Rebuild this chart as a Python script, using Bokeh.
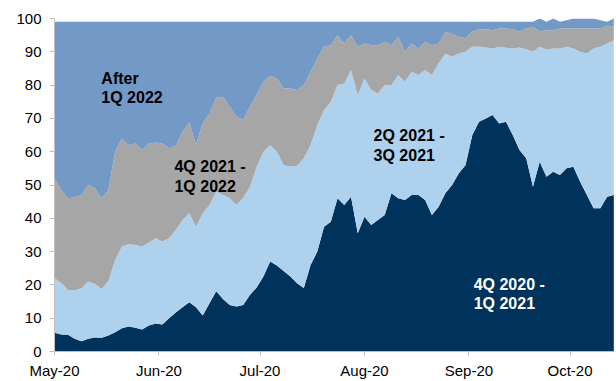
import pandas as pd
from bokeh.plotting import figure
from bokeh.models import ColumnDataSource, Range1d, FixedTicker, DatetimeTickFormatter, Label
from bokeh.embed import file_html
from bokeh.resources import INLINE

# Observation dates (every second day)
dates = pd.date_range("2020-05-01", periods=84, freq="2D")

# Share of expectations (%) for each timing bucket, bottom to top
q4_2020_1q_2021 = [5.6, 5.1, 5.0, 3.8, 3.1, 3.8, 4.2, 4.1, 4.8, 5.8,
                   7.0, 7.5, 7.1, 6.6, 7.8, 8.4, 8.1, 10.0, 11.7, 13.3,
                   14.8, 13.3, 10.8, 14.5, 18.1, 15.8, 14.0, 13.5, 14.0, 17.0,
                   19.2, 22.5, 27.0, 25.8, 24.2, 22.5, 20.5, 19.1, 26.0, 30.0,
                   37.5, 39.0, 46.0, 44.0, 46.5, 35.5, 40.5, 38.0, 39.5, 41.0,
                   47.5, 46.0, 45.5, 47.0, 47.0, 45.5, 41.0, 43.5, 47.5, 50.0,
                   53.5, 56.0, 65.0, 69.0, 70.0, 71.0, 68.5, 69.0, 65.0, 60.5,
                   58.0, 49.5, 57.0, 52.5, 54.0, 53.0, 55.0, 55.5, 51.0, 47.0,
                   43.0, 43.0, 46.5, 47.0]
q2_2021_3q_2021 = [16.5, 15.5, 13.5, 14.6, 15.9, 17.2, 16.1, 14.7, 16.4, 21.7,
                   24.5, 24.7, 24.9, 24.9, 24.9, 25.6, 24.9, 24.0, 24.8, 26.2,
                   26.7, 24.2, 30.7, 29.5, 29.9, 31.2, 32.0, 30.5, 32.2, 32.5,
                   36.3, 37.5, 35.0, 34.2, 31.8, 33.0, 35.3, 38.9, 36.0, 38.0,
                   35.0, 36.0, 34.0, 36.5, 38.0, 41.5, 41.5, 40.5, 38.0, 39.0,
                   32.5, 37.0, 35.5, 37.0, 36.0, 39.0, 42.0, 43.0, 42.0, 38.5,
                   36.0, 34.0, 26.5, 22.5, 21.3, 20.0, 23.0, 22.2, 26.0, 30.8,
                   32.8, 40.5, 34.5, 38.2, 37.0, 38.0, 36.5, 35.5, 39.0, 42.5,
                   48.0, 48.5, 46.0, 46.5]
q4_2021_1q_2022 = [29.9, 27.9, 27.5, 27.9, 28.0, 29.0, 28.7, 27.2, 27.3, 32.5,
                   32.5, 29.8, 30.5, 29.0, 29.8, 28.8, 29.5, 27.0, 25.3, 26.5,
                   27.3, 24.5, 27.0, 27.5, 28.2, 29.5, 27.5, 26.5, 23.3, 24.0,
                   21.5, 21.0, 20.8, 22.0, 23.0, 23.5, 22.7, 22.0, 22.0, 20.0,
                   19.0, 17.0, 15.0, 12.0, 10.5, 14.5, 10.5, 13.5, 14.5, 13.0,
                   12.0, 11.5, 9.0, 8.5, 8.0, 8.5, 9.0, 6.0, 6.5, 6.8,
                   5.0, 4.0, 4.5, 5.3, 5.5, 5.5, 5.5, 5.8, 5.8, 4.7,
                   6.2, 7.5, 4.7, 5.8, 5.5, 6.0, 5.5, 6.0, 7.0, 7.5,
                   6.0, 5.5, 5.3, 4.0]
after_1q_2022 = [47.0, 50.5, 53.0, 52.7, 52.0, 49.0, 50.0, 53.0, 50.5, 39.0,
                 35.0, 37.0, 36.5, 38.5, 36.5, 36.2, 36.5, 38.0, 37.2, 33.0,
                 30.2, 37.0, 30.5, 27.5, 22.8, 22.5, 25.5, 28.5, 29.5, 25.5,
                 22.0, 18.0, 16.2, 17.0, 20.0, 20.0, 20.5, 19.0, 15.0, 11.0,
                 7.5, 7.0, 4.0, 6.5, 4.0, 7.5, 6.5, 7.0, 7.0, 6.0,
                 7.0, 4.5, 9.0, 6.5, 8.0, 6.0, 7.0, 6.5, 3.0, 3.7,
                 4.5, 5.0, 3.0, 2.2, 2.2, 2.5, 2.0, 2.0, 2.2, 3.0,
                 2.0, 1.5, 3.8, 2.5, 3.5, 2.0, 2.5, 3.0, 3.0, 3.0,
                 3.0, 2.5, 1.2, 2.5]

series_names = ["q4_2020_1q_2021", "q2_2021_3q_2021", "q4_2021_1q_2022", "after_1q_2022"]
series_colors = ["#00335C", "#AED2EE", "#A6A6A6", "#7399C6"]

y_ticks = [0, 10, 20, 30, 40, 50, 60, 70, 80, 90, 100]
month_ticks = ["2020-05-01", "2020-06-01", "2020-07-01", "2020-08-01", "2020-09-01", "2020-10-01"]

source = ColumnDataSource(dict(
    date=dates,
    q4_2020_1q_2021=q4_2020_1q_2021,
    q2_2021_3q_2021=q2_2021_3q_2021,
    q4_2021_1q_2022=q4_2021_1q_2022,
    after_1q_2022=after_1q_2022,
))

def ms(ts):
    return pd.Timestamp(ts).value / 1e6

day_ms = 86400000.0
x0 = ms("2020-05-01")

p = figure(width=616, height=381, output_backend="svg", toolbar_location=None,
           x_axis_type="datetime",
           x_range=Range1d(x0, x0 + 166.2 * day_ms),
           y_range=Range1d(0, 100),
           min_border_left=54, min_border_right=2, min_border_top=18, min_border_bottom=29)
p.outline_line_color = None
p.background_fill_color = "white"
p.border_fill_color = "white"
p.xgrid.visible = False
p.ygrid.visible = False

p.varea_stack(stackers=series_names, x="date", color=series_colors, source=source)

FONT = "Liberation Sans"
AXIS_GRAY = "#BFBFBF"

p.yaxis.ticker = FixedTicker(ticks=y_ticks)
p.yaxis.minor_tick_line_color = None
p.yaxis.major_tick_in = 0
p.yaxis.major_tick_out = 5
p.yaxis.axis_line_color = AXIS_GRAY
p.yaxis.major_tick_line_color = AXIS_GRAY
p.yaxis.major_label_text_font = FONT
p.yaxis.major_label_text_font_size = "15px"
p.yaxis.major_label_text_color = "#000000"
p.yaxis.major_label_standoff = 8

p.xaxis.ticker = FixedTicker(ticks=[ms(t) for t in month_ticks])
p.xaxis.formatter = DatetimeTickFormatter(
    years="%b-%y", months="%b-%y", days="%b-%y", hours="%b-%y",
    minutes="%b-%y", hourmin="%b-%y", seconds="%b-%y", minsec="%b-%y",
    milliseconds="%b-%y", microseconds="%b-%y")
p.xaxis.minor_tick_line_color = None
p.xaxis.major_tick_in = 0
p.xaxis.major_tick_out = 4
p.xaxis.axis_line_color = AXIS_GRAY
p.xaxis.major_tick_line_color = AXIS_GRAY
p.xaxis.major_label_text_font = FONT
p.xaxis.major_label_text_font_size = "15px"
p.xaxis.major_label_text_color = "#000000"
p.xaxis.major_label_standoff = 6

# Bucket names written inside their areas
labels = [
    (13.9, 81.9, "After", "#000000"),
    (13.9, 76.2, "1Q 2022", "#000000"),
    (35.6, 55.5, "4Q 2021 -", "#000000"),
    (35.6, 49.6, "1Q 2022", "#000000"),
    (94.7, 65.0, "2Q 2021 -", "#000000"),
    (94.7, 59.0, "3Q 2021", "#000000"),
    (124.4, 20.1, "4Q 2020 -", "#FFFFFF"),
    (124.4, 14.5, "1Q 2021", "#FFFFFF"),
]
for d, yv, txt, col in labels:
    p.add_layout(Label(x=x0 + d * day_ms, y=yv, text=txt, text_font=FONT,
                       text_font_size="16px", text_font_style="bold",
                       text_color=col, text_baseline="alphabetic", text_align="left"))

open("out.html", "w").write(file_html(p, INLINE))
